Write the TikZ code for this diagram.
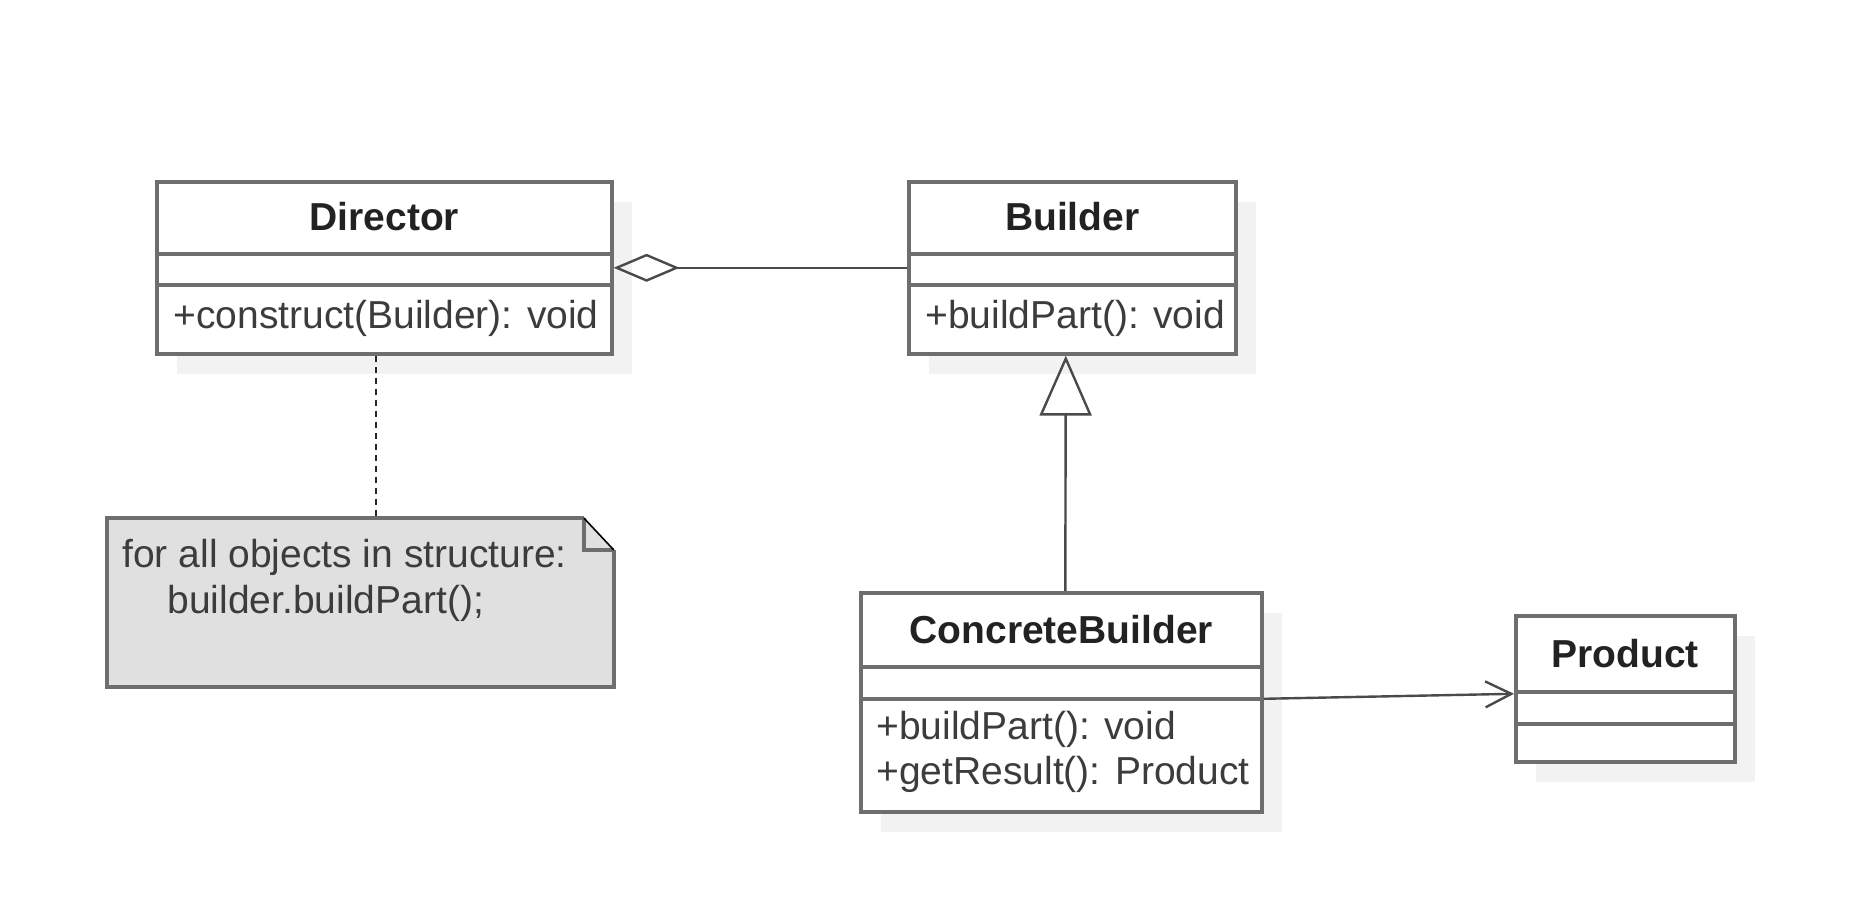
\documentclass[tikz,border=0pt]{standalone}
\usepackage{fontspec}
\setmainfont{Liberation Sans}
\usetikzlibrary{arrows.meta,calc,shadows}
\definecolor{framegray}{HTML}{6E6E6E}
\definecolor{shadowgray}{HTML}{F2F2F2}
\definecolor{notefill}{HTML}{E0E0E0}
\definecolor{inkgray}{HTML}{3C3C3C}
\definecolor{titleink}{HTML}{222222}
\definecolor{linkgray}{HTML}{4A4A4A}
\begin{document}
\begin{tikzpicture}[x=0.5pt,y=-0.5pt,
  every node/.style={font=\fontsize{19.5}{22.5}\selectfont},
  classbox/.style={draw=framegray, line width=1.8pt, fill=white, inner sep=0pt,
    anchor=north west,
    drop shadow={shadow xshift=10pt, shadow yshift=-10pt, fill=shadowgray, opacity=1}},
  sepline/.style={draw=framegray, line width=1.8pt},
  title/.style={font=\fontsize{19.5}{22.5}\selectfont\bfseries, text=titleink, inner sep=0pt},
  member/.style={text=inkgray, anchor=west, align=left, inner sep=0pt},
  link/.style={draw=linkgray, line width=1.2pt},
  noteline/.style={draw=framegray, line width=1.8pt, line join=miter},
]
\useasboundingbox (0,0) rectangle (1860,914);

% ---- class frames ----
\node[classbox, minimum width=455*0.5pt, minimum height=172*0.5pt] (director) at (155,180) {};
\node[classbox, minimum width=327*0.5pt, minimum height=172*0.5pt] (builder) at (907,180) {};
\node[classbox, minimum width=401*0.5pt, minimum height=219*0.5pt] (concrete) at (859,591) {};
\node[classbox, minimum width=219*0.5pt, minimum height=146*0.5pt] (product) at (1514,614) {};

% ---- compartment separators ----
\foreach \c/\a/\b in {director/37/52.5, builder/37/52.5, concrete/38/54, product/39/55}{
  \draw[sepline] ([yshift=-\a pt]\c.north west) -- ([yshift=-\a pt]\c.north east);
  \draw[sepline] ([yshift=-\b pt]\c.north west) -- ([yshift=-\b pt]\c.north east);
}

% ---- class names ----
\node[title] (directorname) at ($(director.north)+(0,37)$) {Director};
\node[title] (buildername) at ($(builder.north)+(0,37)$) {Builder};
\node[title] (concretename) at ($(concrete.north)+(0,39)$) {ConcreteBuilder};
\node[title] (productname) at ($(product.north)+(0,40)$) {Product};

% ---- operations ----
\node[member] (directorops) at (173,318) {+construct(Builder): void};
\node[member] (builderops) at (925,318) {+buildPart(): void};
\node[member] (concreteops) at (876,752) {+buildPart(): void\\+getResult(): Product};

% ---- note with folded corner ----
\node[minimum width=506*0.5pt, minimum height=168*0.5pt, inner sep=0pt, anchor=north west] (note) at (107,518) {};
\path[fill=notefill] (note.north west) -- ([xshift=-15pt]note.north east)
  -- ([yshift=-16pt]note.north east) -- (note.south east) -- (note.south west) -- cycle;
\draw[noteline] ([yshift=-16pt]note.north east) -- (note.south east) -- (note.south west)
  -- (note.north west) -- ([xshift=-15pt]note.north east);
\draw[noteline] ([xshift=-15pt]note.north east) -- ([xshift=-15pt,yshift=-16pt]note.north east)
  -- ([yshift=-16pt]note.north east);
\draw[black, line width=0.8pt] ([xshift=-15pt]note.north east) -- ([yshift=-16pt]note.north east);
\node[member, font=\fontsize{19.5}{23}\selectfont] (notetext) at (122,580)
  {for all objects in structure:\\\hspace*{22.5pt}builder.buildPart();};

% ---- connectors ----
\draw[link, {Diamond[open, length=33pt, width=14pt]}-] (director.east) -- (builder.west);
\draw[link, -{Triangle[open, length=30pt, width=26pt]}]
  ([xshift=2pt]concrete.north) -- ([xshift=-3.25pt]builder.south);
\draw[link, -{Straight Barb[length=13pt, width=13pt]}]
  ([yshift=1.75pt]concrete.east) -- ([yshift=-2.5pt]product.west);
\coordinate (notelink) at ([xshift=-4.25pt]director.south);
\draw[draw=black!85, line width=1pt, dash pattern=on 3pt off 2.5pt]
  (notelink) -- (notelink |- note.north);
\end{tikzpicture}
\end{document}
